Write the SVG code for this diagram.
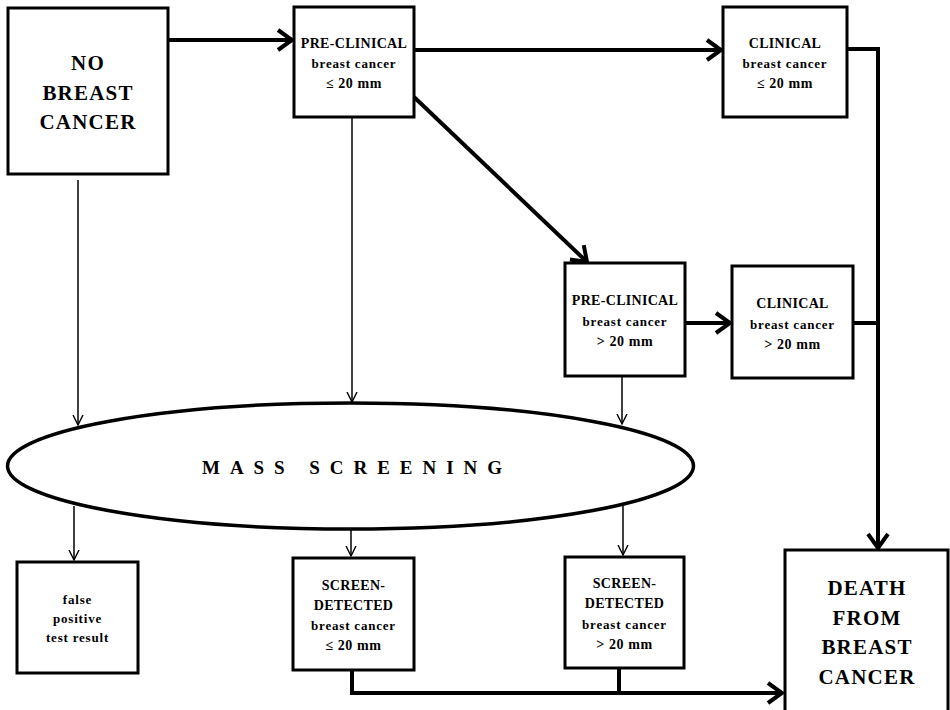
<svg xmlns="http://www.w3.org/2000/svg" width="950" height="710" viewBox="0 0 950 710">
  <style>
    .box { fill: #fff; stroke: #000; stroke-width: 3; }
    .oval { fill: #fff; stroke: #000; stroke-width: 3.5; }
    .thick { fill: none; stroke: #000; stroke-width: 4; }
    .thin { fill: none; stroke: #000; stroke-width: 1.5; }
    text { font-family: "Liberation Serif", "Times New Roman", serif; font-weight: bold; fill: #000; text-anchor: middle; }
    .big { font-size: 21px; letter-spacing: 1.2px; }
    .cap { font-size: 14px; letter-spacing: 0.3px; }
    .low { font-size: 13px; letter-spacing: 0.8px; }
    .size { font-size: 14px; letter-spacing: 0.6px; }
    .mass { font-size: 19px; text-anchor: start; }
  </style>
  <defs>
    <marker id="headThick" markerUnits="userSpaceOnUse" viewBox="0 0 20 24" refX="17" refY="12" markerWidth="20" markerHeight="24" orient="auto">
      <path d="M3,2 L17,12 L3,22" fill="none" stroke="#000" stroke-width="4"/>
    </marker>
    <marker id="headThin" markerUnits="userSpaceOnUse" viewBox="0 0 12 12" refX="10.5" refY="6" markerWidth="12" markerHeight="12" orient="auto">
      <path d="M0.5,1 L10.5,6 L0.5,11" fill="none" stroke="#000" stroke-width="1.4"/>
    </marker>
  </defs>

  <!-- connectors -->
  <g id="connectors">
    <path class="thick" d="M168,40 H292" marker-end="url(#headThick)"/>
    <path class="thick" d="M414,50 H721" marker-end="url(#headThick)"/>
    <path class="thick" d="M414,97 L587,262" marker-end="url(#headThick)"/>
    <path class="thick" d="M685,323 H730" marker-end="url(#headThick)"/>
    <path class="thick" d="M847,49 H878 V548" marker-end="url(#headThick)"/>
    <path class="thick" d="M853,323 H878"/>
    <path class="thick" d="M352,670 V693 H782" marker-end="url(#headThick)"/>
    <path class="thick" d="M619,668 V693"/>

    <path class="thin" d="M78,180 V425" marker-end="url(#headThin)"/>
    <path class="thin" d="M352,117 V402" marker-end="url(#headThin)"/>
    <path class="thin" d="M622,376 V424" marker-end="url(#headThin)"/>
    <path class="thin" d="M74,506 V560" marker-end="url(#headThin)"/>
    <path class="thin" d="M351,529 V556" marker-end="url(#headThin)"/>
    <path class="thin" d="M623,506 V555" marker-end="url(#headThin)"/>
  </g>

  <g id="no-breast-cancer">
    <rect class="box" x="8" y="8" width="160" height="166"/>
    <text class="big" x="88" y="70">NO</text>
    <text class="big" x="88" y="100">BREAST</text>
    <text class="big" x="88" y="129">CANCER</text>
  </g>

  <g id="preclinical-small">
    <rect class="box" x="294" y="7" width="120" height="110"/>
    <text class="cap" x="354" y="48">PRE-CLINICAL</text>
    <text class="low" x="354" y="68">breast cancer</text>
    <text class="size" x="354" y="88">≤ 20 mm</text>
  </g>

  <g id="clinical-small">
    <rect class="box" x="723" y="7" width="124" height="110"/>
    <text class="cap" x="785" y="48">CLINICAL</text>
    <text class="low" x="785" y="68">breast cancer</text>
    <text class="size" x="785" y="88">≤ 20 mm</text>
  </g>

  <g id="preclinical-large">
    <rect class="box" x="565" y="263" width="120" height="113"/>
    <text class="cap" x="625" y="305">PRE-CLINICAL</text>
    <text class="low" x="625" y="326">breast cancer</text>
    <text class="size" x="625" y="346">&gt; 20 mm</text>
  </g>

  <g id="clinical-large">
    <rect class="box" x="732" y="266" width="121" height="112"/>
    <text class="cap" x="792.5" y="308">CLINICAL</text>
    <text class="low" x="792.5" y="329">breast cancer</text>
    <text class="size" x="792.5" y="349">&gt; 20 mm</text>
  </g>

  <g id="mass-screening">
    <ellipse class="oval" cx="350.5" cy="466" rx="343" ry="63"/>
    <text class="mass" x="202" y="474" textLength="300" lengthAdjust="spacing">MASS SCREENING</text>
  </g>

  <g id="false-positive">
    <rect class="box" x="17" y="562" width="121" height="111"/>
    <text class="low" x="77.5" y="604">false</text>
    <text class="low" x="77.5" y="623">positive</text>
    <text class="low" x="77.5" y="642">test result</text>
  </g>

  <g id="screen-detected-small">
    <rect class="box" x="293" y="558" width="121" height="112"/>
    <text class="cap" x="353.5" y="590">SCREEN-</text>
    <text class="cap" x="353.5" y="610">DETECTED</text>
    <text class="low" x="353.5" y="630">breast cancer</text>
    <text class="size" x="353.5" y="650">≤ 20 mm</text>
  </g>

  <g id="screen-detected-large">
    <rect class="box" x="565" y="557" width="119" height="111"/>
    <text class="cap" x="624.5" y="588">SCREEN-</text>
    <text class="cap" x="624.5" y="608">DETECTED</text>
    <text class="low" x="624.5" y="629">breast cancer</text>
    <text class="size" x="624.5" y="649">&gt; 20 mm</text>
  </g>

  <g id="death">
    <rect class="box" x="785" y="550" width="163" height="170"/>
    <text class="big" x="867" y="595">DEATH</text>
    <text class="big" x="867" y="625">FROM</text>
    <text class="big" x="867" y="654">BREAST</text>
    <text class="big" x="867" y="684">CANCER</text>
  </g>
</svg>
